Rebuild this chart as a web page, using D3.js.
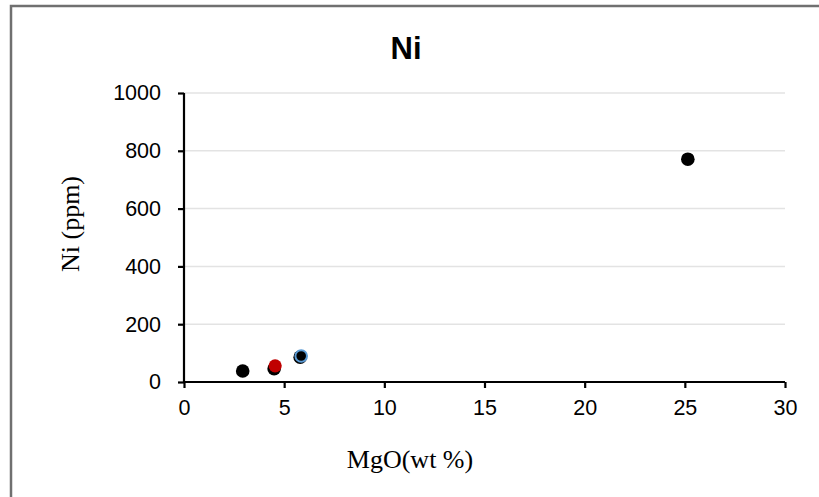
<!DOCTYPE html>
<html>
<head>
<meta charset="utf-8">
<script src="https://cdn.jsdelivr.net/npm/d3@7"></script>
<style>
  body { margin: 0; background: #fff; }
  svg { display: block; }
</style>
</head>
<body>
<div id="chart"></div>
<script>
// sample points: MgO (wt %) vs Ni (ppm)
const blackX = [2.93, 4.5, 5.8, 25.15];
const blackY = [38, 46, 86, 771];
const redX = [4.55];
const redY = [56];
const blueX = [5.85];
const blueY = [90];
const xTicks = [0, 5, 10, 15, 20, 25, 30];
const yTicks = [0, 200, 400, 600, 800, 1000];

const width = 819;
const height = 497;
const margin = {top: 93, right: 34, bottom: 115, left: 184};

const svg = d3.select("#chart")
    .append("svg")
    .attr("width", width)
    .attr("height", height);

// chart frame (only top and left edges visible)
svg.append("path")
    .attr("d", `M11,${height} L11,6 L${width},6`)
    .attr("fill", "none")
    .attr("stroke", "#707070")
    .attr("stroke-width", 2.5);

const x = d3.scaleLinear()
    .domain([0, 30])
    .range([margin.left, width - margin.right]);

const y = d3.scaleLinear()
    .domain([0, 1000])
    .range([height - margin.bottom, margin.top]);

// gridlines
svg.append("g")
    .selectAll("line")
    .data(yTicks.filter(d => d > 0))
    .enter()
    .append("line")
    .attr("x1", x(0))
    .attr("x2", x(30))
    .attr("y1", d => y(d))
    .attr("y2", d => y(d))
    .attr("stroke", "#e3e3e3")
    .attr("stroke-width", 1.5);

const xAxis = svg.append("g")
    .attr("transform", `translate(0,${y(0)})`)
    .call(d3.axisBottom(x).tickValues(xTicks).tickFormat(d3.format("d")).tickSize(6).tickPadding(12));

const yAxis = svg.append("g")
    .attr("transform", `translate(${x(0)},0)`)
    .call(d3.axisLeft(y).tickValues(yTicks).tickFormat(d3.format("d")).tickSize(6).tickPadding(17));

for (const ax of [xAxis, yAxis]) {
    ax.select(".domain").attr("stroke", "#000").attr("stroke-width", 2.2);
    ax.selectAll(".tick line").attr("stroke", "#000").attr("stroke-width", 2.2);
    ax.selectAll(".tick text")
        .attr("fill", "#000")
        .style("font-family", "'Liberation Sans', Arial, sans-serif")
        .style("font-size", "21.5px");
}
// keep the axis lines without outer end ticks
xAxis.select(".domain").attr("d", `M${x(0)},0H${x(30)}`);
yAxis.select(".domain").attr("d", `M0,${y(0)}V${y(1000)}`);

// title
svg.append("text")
    .attr("x", 406)
    .attr("y", 59)
    .attr("text-anchor", "middle")
    .style("font-family", "'Liberation Sans', Arial, sans-serif")
    .style("font-weight", "bold")
    .style("font-size", "31px")
    .text("Ni");

// axis titles
svg.append("text")
    .attr("x", 410)
    .attr("y", 468)
    .attr("text-anchor", "middle")
    .style("font-family", "'Liberation Serif', 'Times New Roman', serif")
    .style("font-size", "26px")
    .text("MgO(wt %)");

svg.append("text")
    .attr("transform", "translate(79,224) rotate(-90)")
    .attr("text-anchor", "middle")
    .style("font-family", "'Liberation Serif', 'Times New Roman', serif")
    .style("font-size", "26px")
    .text("Ni (ppm)");

// points
svg.append("g")
    .selectAll("circle")
    .data(blackX.map((d, i) => ({x: d, y: blackY[i]})))
    .enter()
    .append("circle")
    .attr("cx", d => x(d.x))
    .attr("cy", d => y(d.y))
    .attr("r", 6.8)
    .attr("fill", "#000");

svg.append("g")
    .selectAll("circle")
    .data(redX.map((d, i) => ({x: d, y: redY[i]})))
    .enter()
    .append("circle")
    .attr("cx", d => x(d.x))
    .attr("cy", d => y(d.y))
    .attr("r", 6.6)
    .attr("fill", "#c00000");

svg.append("g")
    .selectAll("circle")
    .data(blueX.map((d, i) => ({x: d, y: blueY[i]})))
    .enter()
    .append("circle")
    .attr("cx", d => x(d.x))
    .attr("cy", d => y(d.y))
    .attr("r", 5.8)
    .attr("fill", "#000")
    .attr("stroke", "#5b9bd5")
    .attr("stroke-width", 2);
</script>
</body>
</html>
